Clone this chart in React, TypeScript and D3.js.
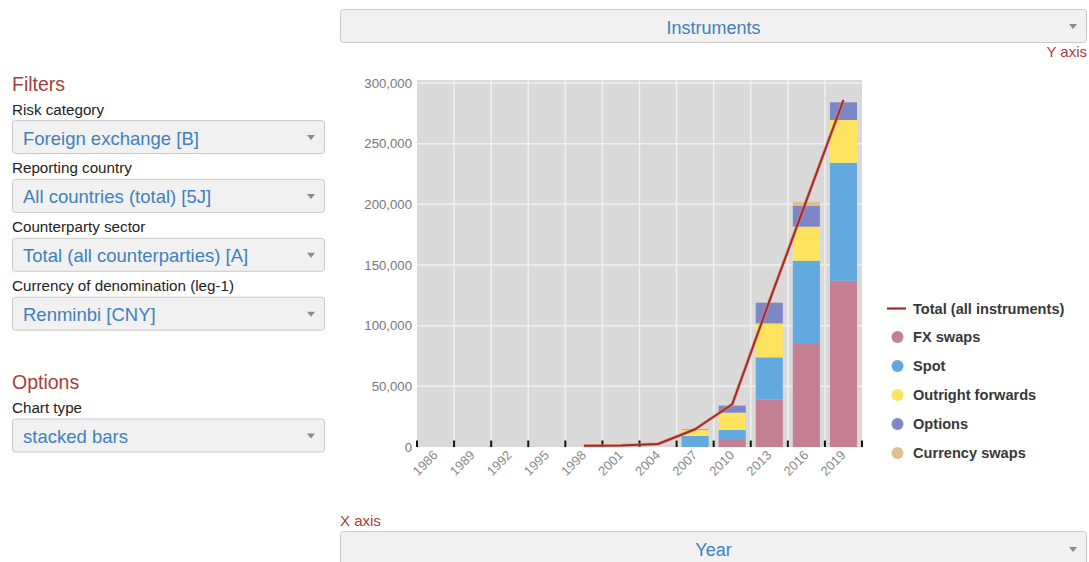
import * as d3 from 'd3'

const YEARS = ['1986', '1989', '1992', '1995', '1998', '2001', '2004', '2007', '2010', '2013', '2016', '2019']
const FX_SWAPS = [0, 0, 0, 0, 0, 0, 0, 0, 5800, 39300, 84900, 137000]
const SPOT = [0, 0, 0, 0, 0, 0, 0, 9100, 8200, 34600, 68600, 97300]
const OUTRIGHT = [0, 0, 0, 0, 0, 0, 0, 4900, 14300, 28000, 28100, 35200]
const OPTIONS = [0, 0, 0, 0, 0, 0, 0, 500, 5800, 17000, 17300, 14600]
const CURRENCY_SWAPS = [0, 0, 0, 0, 0, 0, 0, 0, 0, 0, 3300, 0]
const TOTAL: (number | null)[] = [null, null, null, null, 1000, 1200, 2500, 14600, 35200, 120000, 203000, 286000]
const Y_TICKS = [0, 50000, 100000, 150000, 200000, 250000, 300000]

const SERIES = [
  { key: 'fx', label: 'FX swaps', color: '#c47f93', values: FX_SWAPS },
  { key: 'spot', label: 'Spot', color: '#62a9e0', values: SPOT },
  { key: 'outright', label: 'Outright forwards', color: '#fde35e', values: OUTRIGHT },
  { key: 'options', label: 'Options', color: '#7d87c6', values: OPTIONS },
  { key: 'cs', label: 'Currency swaps', color: '#e2bf8c', values: CURRENCY_SWAPS },
]

const FILTERS = [
  { label: 'Risk category', value: 'Foreign exchange [B]' },
  { label: 'Reporting country', value: 'All countries (total) [5J]' },
  { label: 'Counterparty sector', value: 'Total (all counterparties) [A]' },
  { label: 'Currency of denomination (leg-1)', value: 'Renminbi [CNY]' },
]

const FONT = "'Liberation Sans', Arial, sans-serif"
const RED = '#a6403b'
const BLUE = '#3f80c0'

function Select({ x, y, w, h, text, align = 'start' }: { x: number; y: number; w: number; h: number; text: string; align?: 'start' | 'middle' }) {
  const ax = x + w - 14
  const ay = y + h / 2
  return (
    <g>
      <rect x={x + 0.5} y={y + 0.5} width={w - 1} height={h - 1} rx={3} fill="#f1f1f1" stroke="#c9c9c9" />
      <text
        x={align === 'start' ? x + 11 : x + w / 2}
        y={y + 24.5}
        textAnchor={align}
        fontSize={align === 'start' ? 18.5 : 18}
        fill={BLUE}
      >
        {text}
      </text>
      <path d={`M${ax - 4},${ay - 2} L${ax + 4},${ay - 2} L${ax},${ay + 3} Z`} fill="#8a8a8a" />
    </g>
  )
}

export default function App() {
  const left = 417
  const right = 862
  const top = 80
  const bottom = 447

  const x = d3.scaleBand().domain(YEARS).range([left, right]).paddingInner(0.27).paddingOuter(0.135)
  const y = d3.scaleLinear().domain([0, 302500]).range([bottom, top])
  const step = x.step()
  const half = (step - x.bandwidth()) / 2

  const rows = YEARS.map((year, i) => {
    const row: Record<string, number | string> = { year }
    SERIES.forEach(s => (row[s.key] = s.values[i]))
    return row
  })
  const stacked = d3.stack<Record<string, number | string>>().keys(SERIES.map(s => s.key))(rows as any)

  const boundaries = YEARS.map(yr => (x(yr) ?? 0) - half).concat([(x(YEARS[YEARS.length - 1]) ?? 0) + x.bandwidth() + half])

  const line = d3
    .line<number | null>()
    .defined(d => d !== null)
    .x((_, i) => (x(YEARS[i]) ?? 0) + x.bandwidth() / 2)
    .y(d => y(d ?? 0))

  const fmt = d3.format(',')

  return (
    <div style={{ position: 'absolute', left: 0, top: 0 }}>
      <svg width={1089} height={562} style={{ display: 'block', fontFamily: FONT }}>
        <rect width={1089} height={562} fill="#fff" />

        {/* left panel */}
        <text x={12} y={90.5} fontSize={19.5} fill={RED}>Filters</text>
        {FILTERS.map((f, i) => {
          const by = 120 + i * 58.9
          return (
            <g key={f.label}>
              <text x={12} y={by - 5.5} fontSize={15.2} fill="#222">{f.label}</text>
              <Select x={12} y={by} w={313} h={34} text={f.value} />
            </g>
          )
        })}
        <text x={12} y={389} fontSize={19.5} fill={RED}>Options</text>
        <text x={12} y={413.3} fontSize={15.2} fill="#222">Chart type</text>
        <Select x={12} y={418.5} w={313} h={34} text="stacked bars" />

        {/* top / bottom selectors */}
        <Select x={340} y={9} w={747} h={34} text="Instruments" align="middle" />
        <text x={1087} y={57} textAnchor="end" fontSize={15} fill={RED}>Y axis</text>
        <text x={340} y={526} fontSize={15} fill={RED}>X axis</text>
        <Select x={340} y={531} w={747} h={36} text="Year" align="middle" />

        {/* plot background + grid */}
        <rect x={left} y={top} width={right - left} height={bottom - top} fill="#d9d9d9" />
        {Y_TICKS.filter(v => v > 0).map(v => (
          <line key={`h${v}`} x1={left} x2={right} y1={y(v)} y2={y(v)} stroke="#efefef" strokeWidth={1.5} />
        ))}
        {boundaries.slice(1, -1).map((bx, i) => (
          <line key={`v${i}`} x1={bx} x2={bx} y1={top} y2={bottom} stroke="#efefef" strokeWidth={1.5} />
        ))}

        {/* bars */}
        {stacked.map((layer, li) => (
          <g key={layer.key} fill={SERIES[li].color}>
            {layer.map((d, i) => {
              const h = y(d[0]) - y(d[1])
              if (h <= 0) return null
              return <rect key={YEARS[i]} x={x(YEARS[i])} y={y(d[1])} width={x.bandwidth()} height={h} />
            })}
          </g>
        ))}

        {/* ticks */}
        {boundaries.map((bx, i) => (
          <line key={`t${i}`} x1={bx} x2={bx} y1={bottom - 6.5} y2={bottom} stroke="#111" strokeWidth={2} />
        ))}

        {/* total line */}
        <path d={line(TOTAL) ?? ''} fill="none" stroke="#f08a5d" strokeOpacity={0.6} strokeWidth={3.6} strokeLinejoin="round" />
        <path d={line(TOTAL) ?? ''} fill="none" stroke="#9c2a2e" strokeWidth={2} strokeLinejoin="round" />

        {/* y labels */}
        {Y_TICKS.map(v => (
          <text key={`yl${v}`} x={412} y={y(v) + 4.5} textAnchor="end" fontSize={13.2} fill="#777">
            {fmt(v)}
          </text>
        ))}

        {/* x labels */}
        {YEARS.map(yr => {
          const cx = (x(yr) ?? 0) + x.bandwidth() / 2 + 3
          return (
            <text key={`xl${yr}`} x={cx} y={456} transform={`rotate(-45 ${cx} 456)`} textAnchor="end" fontSize={13} fill="#8a8a8a">
              {yr}
            </text>
          )
        })}

        {/* legend */}
        <g fontSize={14.6} fontWeight={700} fill="#383838">
          <line x1={887} x2={906} y1={308.5} y2={308.5} stroke="#a1282c" strokeWidth={2.2} />
          <text x={913} y={313.5}>Total (all instruments)</text>
          {SERIES.map((s, i) => {
            const cy = 337 + i * 29
            return (
              <g key={`lg${s.key}`}>
                <circle cx={897.5} cy={cy} r={6} fill={s.color} />
                <text x={913} y={cy + 5}>{s.label}</text>
              </g>
            )
          })}
        </g>
      </svg>
    </div>
  )
}
